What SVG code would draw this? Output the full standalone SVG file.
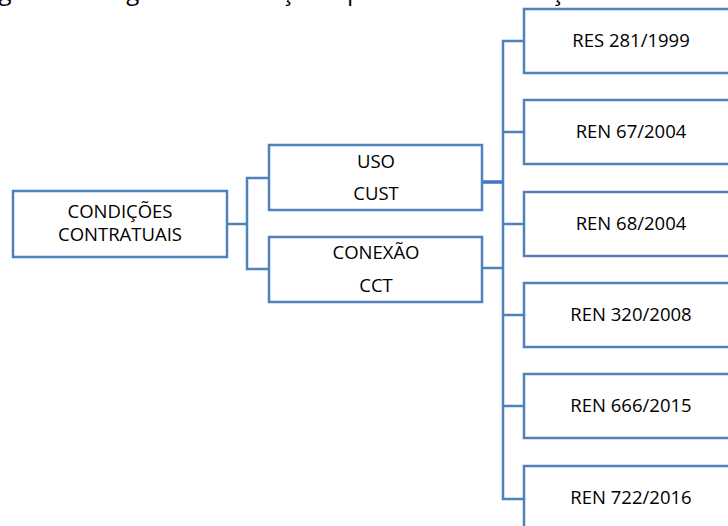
<svg xmlns="http://www.w3.org/2000/svg" width="728" height="526" viewBox="0 0 728 526">
<style>
.box{fill:#fff;stroke:#4F81BD;stroke-width:2.5}
.lbl{font-family:"Open Sans","Liberation Sans",sans-serif;font-size:18.5px;fill:#000;text-anchor:middle}
.con{fill:none;stroke:#4F81BD;stroke-width:2.5}
.cap{font-family:"Open Sans","Liberation Sans",sans-serif;font-size:24px;fill:#000}
</style>
<rect width="728" height="526" fill="#fff"/>
<text class="cap" x="-20" y="-0.5">Figura 3 - Diagrama de relações que ditam as condições contratuais</text>
<g id="connectors">
<polyline class="con" points="227,224 247,224"/>
<polyline class="con" points="269,178 247,178 247,269 269,269"/>
<polyline fill="none" stroke="#4472C4" stroke-width="3.5" points="482,182 503,182"/>
<polyline class="con" points="482,268 503,268"/>
<polyline class="con" points="524,41 503,41 503,499 524,499"/>
<polyline class="con" points="503,132 524,132"/>
<polyline class="con" points="503,224 524,224"/>
<polyline class="con" points="503,315 524,315"/>
<polyline class="con" points="503,406 524,406"/>
</g>
<g id="n-condicoes">
<rect class="box" x="13" y="191" width="214" height="66"/>
<text class="lbl" x="120" y="218">CONDIÇÕES</text>
<text class="lbl" x="120" y="241">CONTRATUAIS</text>
</g>
<g id="n-uso">
<rect class="box" x="269" y="145" width="213" height="65"/>
<text class="lbl" x="376" y="168">USO</text>
<text class="lbl" x="376" y="200">CUST</text>
</g>
<g id="n-conexao">
<rect class="box" x="269" y="237" width="213" height="65"/>
<text class="lbl" x="376" y="259">CONEXÃO</text>
<text class="lbl" x="376" y="292">CCT</text>
</g>
<g id="n-res281">
<rect class="box" x="524" y="9" width="220" height="64"/>
<text class="lbl" x="631" y="47">RES 281/1999</text>
</g>
<g id="n-ren67">
<rect class="box" x="524" y="100" width="220" height="64"/>
<text class="lbl" x="631" y="138">REN 67/2004</text>
</g>
<g id="n-ren68">
<rect class="box" x="524" y="192" width="220" height="64"/>
<text class="lbl" x="631" y="230">REN 68/2004</text>
</g>
<g id="n-ren320">
<rect class="box" x="524" y="283" width="220" height="64"/>
<text class="lbl" x="631" y="321">REN 320/2008</text>
</g>
<g id="n-ren666">
<rect class="box" x="524" y="374" width="220" height="64"/>
<text class="lbl" x="631" y="412">REN 666/2015</text>
</g>
<g id="n-ren722">
<rect class="box" x="524" y="466" width="220" height="80"/>
<text class="lbl" x="631" y="504">REN 722/2016</text>
</g>
</svg>
